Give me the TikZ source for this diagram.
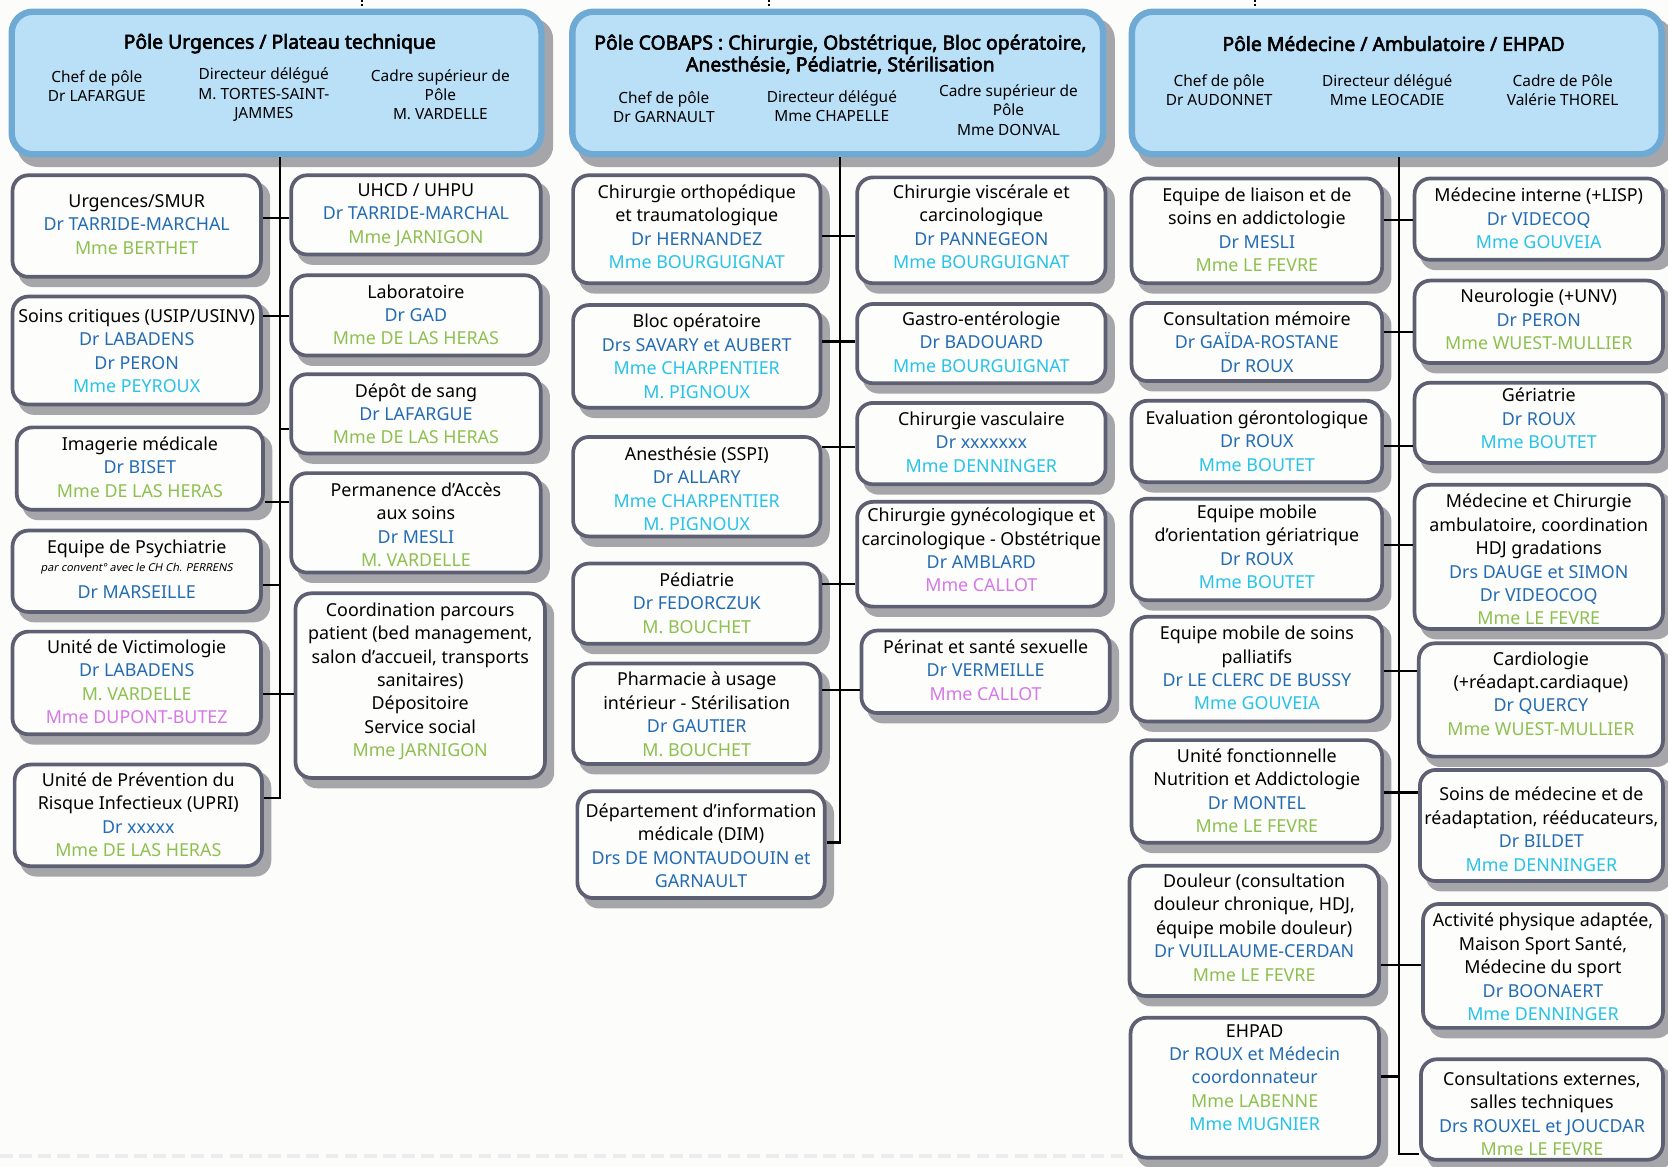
\documentclass[tikz,border=0pt]{standalone}
\usepackage{fontspec}
\setmainfont{Noto Sans}[AutoFakeBold=3, AutoFakeSlant=0.2]
\definecolor{cblue}{RGB}{35,108,180}
\definecolor{cgreen}{RGB}{141,192,80}
\definecolor{ccyan}{RGB}{40,195,232}
\definecolor{cmag}{RGB}{214,120,232}
\definecolor{cborder}{RGB}{95,95,115}
\definecolor{cshadow}{RGB}{166,166,170}
\definecolor{cfill}{RGB}{253,253,251}
\definecolor{cbg}{RGB}{252,252,250}
\definecolor{hfill}{RGB}{186,224,248}
\definecolor{hborder}{RGB}{110,170,212}
\definecolor{cfaint}{RGB}{236,236,238}
\newcommand\cBlue[1]{\textcolor{cblue}{#1}}
\newcommand\cGreen[1]{\textcolor{cgreen}{#1}}
\newcommand\cCyan[1]{\textcolor{ccyan}{#1}}
\newcommand\cMag[1]{\textcolor{cmag}{#1}}
\newcommand\bodyfont{\fontsize{16.8}{22}\selectfont}
\newcommand\subfont{\fontsize{14.5}{18}\selectfont}
\newcommand\titlefont{\fontsize{18.2}{20.5}\selectfont\bfseries}
\newcommand\smallit{\fontsize{10.3}{11}\selectfont\itshape}
\tikzset{
  unitbox/.style={draw=cborder, line width=3.5pt, fill=cfill, rounded corners=15pt, inner sep=0pt},
  shadowbox/.style={fill=cshadow, rounded corners=15pt, inner sep=0pt, draw=none},
  headbox/.style={draw=hborder, line width=6pt, fill=hfill, rounded corners=20pt, inner sep=0pt},
  headshadow/.style={fill=cshadow, rounded corners=20pt, inner sep=0pt, draw=none},
  unittext/.style={align=center, inner sep=0pt, font=\bodyfont},
  subtext/.style={align=center, inner sep=0pt, font=\subfont},
  titletext/.style={align=center, inner sep=0pt, font=\titlefont},
  link/.style={line width=2pt, draw=black},
}
% name, x1, y1, x2, y2, ytext, content
\newcommand\ubox[7]{%
  \pgfmathsetmacro\bw{#4-#2}\pgfmathsetmacro\bh{#5-#3}%
  \pgfmathsetmacro\bwi{#4-#2-3.5}\pgfmathsetmacro\bhi{#5-#3-3.5}%
  \pgfmathsetmacro\bcx{(#2+#4)/2}\pgfmathsetmacro\bcy{(#3+#5)/2}%
  \node[shadowbox, minimum width=\bw pt, minimum height=\bh pt] (#1-s) at (\bcx+7,\bcy+8) {};
  \node[unitbox, minimum width=\bwi pt, minimum height=\bhi pt] (#1) at (\bcx,\bcy) {};
  \node[unittext] (#1-t) at (\bcx,#6) {#7};
}
\newcommand\headerbox[5]{%
  \pgfmathsetmacro\bw{#4-#2}\pgfmathsetmacro\bh{#5-#3}%
  \pgfmathsetmacro\bwi{#4-#2-6}\pgfmathsetmacro\bhi{#5-#3-6}%
  \pgfmathsetmacro\bcx{(#2+#4)/2}\pgfmathsetmacro\bcy{(#3+#5)/2}%
  \node[headshadow, minimum width=\bw pt, minimum height=\bh pt] (#1-s) at (\bcx+8,\bcy+9) {};
  \node[headbox, minimum width=\bwi pt, minimum height=\bhi pt] (#1) at (\bcx,\bcy) {};
}
\begin{document}
\begin{tikzpicture}[x=1pt,y=-1pt]
\useasboundingbox (0,0) rectangle (1568,1097);
\fill[cbg] (0,0) rectangle (1568,1097);

% faint bottom line and top dotted marks
\coordinate (fl1) at (0,1087);
\coordinate (fl2) at (1058,1087);
\draw[cfaint, line width=4pt, dash pattern=on 12pt off 6pt] (fl1) -- (fl2);
\coordinate (d1) at (340,0);
\coordinate (d2) at (723,0);
\coordinate (d3) at (1180,0);
\foreach \d in {d1,d2,d3}{\draw[line width=1.6pt, dash pattern=on 1.6pt off 2pt] (\d) -- ++(0,7);}

% ---------- headers ----------
\headerbox{h1}{8}{8}{512}{148}
\node[titletext] (h1-t) at (263,41) {Pôle Urgences / Plateau technique};
\node[subtext] (h1-a) at (91,81) {Chef de pôle\\Dr LAFARGUE};
\node[subtext] (h1-b) at (248,89) {Directeur délégué\\M. TORTES-SAINT-\\JAMMES};
\node[subtext] (h1-c) at (414,89) {Cadre supérieur de\\Pôle\\M. VARDELLE};

\headerbox{h2}{535}{8}{1040}{148}
\node[titletext] (h2-t) at (790,51) {Pôle COBAPS : Chirurgie, Obstétrique, Bloc opératoire,\\Anesthésie, Pédiatrie, Stérilisation};
\node[subtext] (h2-a) at (624,101) {Chef de pôle\\Dr GARNAULT};
\node[subtext] (h2-b) at (782,99.5) {Directeur délégué\\Mme CHAPELLE};
\node[subtext] (h2-c) at (948,103.5) {Cadre supérieur de\\Pôle\\Mme DONVAL};

\headerbox{h3}{1061}{8}{1565}{148}
\node[titletext] (h3-t) at (1310,41) {Pôle Médecine / Ambulatoire / EHPAD};
\node[subtext] (h3-a) at (1146,85) {Chef de pôle\\Dr AUDONNET};
\node[subtext] (h3-b) at (1304,85) {Directeur délégué\\Mme LEOCADIE};
\node[subtext] (h3-c) at (1469,85) {Cadre de Pôle\\Valérie THOREL};

% ---------- column 1 ----------
\ubox{u1}{10}{163}{247}{262}{211}{Urgences/SMUR\\\cBlue{Dr TARRIDE-MARCHAL}\\\cGreen{Mme BERTHET}}
\ubox{u2}{10}{277}{247}{382}{330}{Soins critiques (USIP/USINV)\\\cBlue{Dr LABADENS}\\\cBlue{Dr PERON}\\\cCyan{Mme PEYROUX}}
\ubox{u3}{14}{400}{249}{481}{439}{Imagerie médicale\\\cBlue{Dr BISET}\\\cGreen{Mme DE LAS HERAS}}
\ubox{u4}{10}{497}{247}{577}{535}{Equipe de Psychiatrie\\[-5pt]{\smallit par convent° avec le CH Ch. PERRENS}\\[3pt]\cBlue{Dr MARSEILLE}}
\ubox{u5}{10}{592}{247}{692}{641}{Unité de Victimologie\\\cBlue{Dr LABADENS}\\\cGreen{M. VARDELLE}\\\cMag{Mme DUPONT-BUTEZ}}
\ubox{u6}{12}{717}{248}{816}{766}{Unité de Prévention du\\Risque Infectieux (UPRI)\\\cBlue{Dr xxxxx}\\\cGreen{Mme DE LAS HERAS}}

\ubox{v1}{272}{163}{510}{241}{202}{UHCD / UHPU\\\cBlue{Dr TARRIDE-MARCHAL}\\\cGreen{Mme JARNIGON}}
\ubox{v2}{272}{257}{510}{336}{296}{Laboratoire\\\cBlue{Dr GAD}\\\cGreen{Mme DE LAS HERAS}}
\ubox{v3}{272}{350}{510}{428}{389}{Dépôt de sang\\\cBlue{Dr LAFARGUE}\\\cGreen{Mme DE LAS HERAS}}
\ubox{v4}{272}{443}{510}{540}{493.5}{Permanence d’Accès\\aux soins\\\cBlue{Dr MESLI}\\\cGreen{M. VARDELLE}}
\ubox{v5}{276}{556}{514}{733}{640.5}{Coordination parcours\\patient (bed management,\\salon d’accueil, transports\\sanitaires)\\Dépositoire\\Service social\\\cGreen{Mme JARNIGON}}

% ---------- column 2 ----------
\ubox{w1}{537}{163}{773}{268}{213}{Chirurgie orthopédique\\et traumatologique\\\cBlue{Dr HERNANDEZ}\\\cCyan{Mme BOURGUIGNAT}}
\ubox{w2}{537}{285}{773}{385}{335}{Bloc opératoire\\\cBlue{Drs SAVARY et AUBERT}\\\cCyan{Mme CHARPENTIER}\\\cCyan{M. PIGNOUX}}
\ubox{w3}{537}{409}{773}{506}{459.5}{Anesthésie (SSPI)\\\cBlue{Dr ALLARY}\\\cCyan{Mme CHARPENTIER}\\\cCyan{M. PIGNOUX}}
\ubox{w4}{537}{528}{773}{607}{567}{Pédiatrie\\\cBlue{Dr FEDORCZUK}\\\cGreen{M. BOUCHET}}
\ubox{w5}{537}{622}{773}{720}{671.5}{Pharmacie à usage\\intérieur - Stérilisation\\\cBlue{Dr GAUTIER}\\\cGreen{M. BOUCHET}}
\ubox{w6}{541}{742}{777}{846}{795}{Département d’information\\médicale (DIM)\\\cBlue{Drs DE MONTAUDOUIN et}\\\cBlue{GARNAULT}}

\ubox{x1}{804}{165}{1041}{268}{213}{Chirurgie viscérale et\\carcinologique\\\cBlue{Dr PANNEGEON}\\\cCyan{Mme BOURGUIGNAT}}
\ubox{x2}{804}{284}{1041}{362}{321.5}{Gastro-entérologie\\\cBlue{Dr BADOUARD}\\\cCyan{Mme BOURGUIGNAT}}
\ubox{x3}{804}{377}{1041}{457}{415.5}{Chirurgie vasculaire\\\cBlue{Dr xxxxxxx}\\\cCyan{Mme DENNINGER}}
\ubox{x4}{804}{470}{1041}{572}{517}{Chirurgie gynécologique et\\carcinologique - Obstétrique\\\cBlue{Dr AMBLARD}\\\cMag{Mme CALLOT}}
\ubox{x5}{808}{591}{1045}{672}{630}{Périnat et santé sexuelle\\\cBlue{Dr VERMEILLE}\\\cMag{Mme CALLOT}}

% ---------- column 3 ----------
\ubox{y1}{1062}{166}{1301}{268}{216}{Equipe de liaison et de\\soins en addictologie\\\cBlue{Dr MESLI}\\\cGreen{Mme LE FEVRE}}
\ubox{y2}{1062}{283}{1301}{360}{321.5}{Consultation mémoire\\\cBlue{Dr GAÏDA-ROSTANE}\\\cBlue{Dr ROUX}}
\ubox{y3}{1062}{375}{1301}{455}{414.5}{Evaluation gérontologique\\\cBlue{Dr ROUX}\\\cCyan{Mme BOUTET}}
\ubox{y4}{1062}{467}{1301}{566}{514}{Equipe mobile\\d’orientation gériatrique\\\cBlue{Dr ROUX}\\\cCyan{Mme BOUTET}}
\ubox{y5}{1062}{578}{1301}{680}{628}{Equipe mobile de soins\\palliatifs\\\cBlue{Dr LE CLERC DE BUSSY}\\\cCyan{Mme GOUVEIA}}
\ubox{y6}{1062}{694}{1301}{794}{743.5}{Unité fonctionnelle\\Nutrition et Addictologie\\\cBlue{Dr MONTEL}\\\cGreen{Mme LE FEVRE}}
\ubox{y7}{1060}{812}{1298}{938}{872}{Douleur (consultation\\douleur chronique, HDJ,\\équipe mobile douleur)\\\cBlue{Dr VUILLAUME-CERDAN}\\\cGreen{Mme LE FEVRE}}
\ubox{y8}{1061}{955}{1298}{1090}{1013}{EHPAD\\\cBlue{Dr ROUX et Médecin}\\\cBlue{coordonnateur}\\\cGreen{Mme LABENNE}\\\cCyan{Mme MUGNIER}}

\ubox{z1}{1328}{166}{1565}{246}{205.5}{Médecine interne (+LISP)\\\cBlue{Dr VIDECOQ}\\\cCyan{Mme GOUVEIA}}
\ubox{z2}{1328}{262}{1565}{343}{300.5}{Neurologie (+UNV)\\\cBlue{Dr PERON}\\\cGreen{Mme WUEST-MULLIER}}
\ubox{z3}{1328}{358}{1565}{437}{393.5}{Gériatrie\\\cBlue{Dr ROUX}\\\cCyan{Mme BOUTET}}
\ubox{z4}{1328}{454}{1565}{593}{526}{Médecine et Chirurgie\\ambulatoire, coordination\\HDJ gradations\\\cBlue{Drs DAUGE et SIMON}\\\cBlue{Dr VIDEOCOQ}\\\cGreen{Mme LE FEVRE}}
\ubox{z5}{1332}{603}{1565}{713}{652}{Cardiologie\\(+réadapt.cardiaque)\\\cBlue{Dr QUERCY}\\\cGreen{Mme WUEST-MULLIER}}
\ubox{z6}{1333}{722}{1565}{830}{779.5}{Soins de médecine et de\\réadaptation, rééducateurs,\\\cBlue{Dr BILDET}\\\cCyan{Mme DENNINGER}}
\ubox{z7}{1336}{848}{1565}{968}{909}{Activité physique adaptée,\\Maison Sport Santé,\\Médecine du sport\\\cBlue{Dr BOONAERT}\\\cCyan{Mme DENNINGER}}
\ubox{z8}{1334}{994}{1565}{1092}{1047}{Consultations externes,\\salles techniques\\\cBlue{Drs ROUXEL et JOUCDAR}\\\cGreen{Mme LE FEVRE}}

% ---------- trunks and branches ----------
% column 1
\coordinate (t1a) at (263,205);
\coordinate (t1b) at (263,297);
\coordinate (t1c) at (263,403);
\coordinate (t1d) at (263,472);
\coordinate (t1e) at (263,550);
\coordinate (t1f) at (263,652);
\coordinate (t1g) at (263,750);
\draw[link] (h1.south -| t1a) -- (t1g) -- (u6.east |- t1g);
\draw[link] (u1.east |- t1a) -- (v1.west |- t1a);
\draw[link] (u2.east |- t1b) -- (v2.west |- t1b);
\draw[link] (t1c) -- (v3.west |- t1c);
\draw[link] (u3.east |- t1d) -- (v4.west |- t1d);
\draw[link] (u4.east |- t1e) -- (t1e);
\draw[link] (u5.east |- t1f) -- (v5.west |- t1f);
% column 2
\coordinate (t2a) at (790,222);
\coordinate (t2b) at (790,321);
\coordinate (t2c) at (790,420);
\coordinate (t2d) at (790,549);
\coordinate (t2e) at (790,649);
\coordinate (t2f) at (790,792);
\draw[link] (h2.south -| t2a) -- (t2f) -- (w6.east |- t2f);
\draw[link] (w1.east |- t2a) -- (x1.west |- t2a);
\draw[link] (w2.east |- t2b) -- (x2.west |- t2b);
\draw[link] (w3.east |- t2c) -- (x3.west |- t2c);
\draw[link] (w4.east |- t2d) -- (x4.west |- t2d);
\draw[link] (w5.east |- t2e) -- (x5.west |- t2e);
% column 3
\coordinate (t3a) at (1315,207);
\coordinate (t3b) at (1315,312);
\coordinate (t3c) at (1315,419);
\coordinate (t3d) at (1315,512);
\coordinate (t3e) at (1315,631);
\coordinate (t3f) at (1315,745);
\coordinate (t3g) at (1315,907);
\coordinate (t3h) at (1315,1012);
\coordinate (t3i) at (1315,1085);
\draw[link] (h3.south -| t3a) -- (t3i) -- (z8.west |- t3i);
\draw[link] (y1.east |- t3a) -- (z1.west |- t3a);
\draw[link] (y2.east |- t3b) -- (z2.west |- t3b);
\draw[link] (y3.east |- t3c) -- (z3.west |- t3c);
\draw[link] (y4.east |- t3d) -- (z4.west |- t3d);
\draw[link] (y5.east |- t3e) -- (z5.west |- t3e);
\draw[link] (y6.east |- t3f) -- (z6.west |- t3f);
\draw[link] (y7.east |- t3g) -- (z7.west |- t3g);
\draw[link] (y8.east |- t3h) -- (t3h);
\end{tikzpicture}
\end{document}
